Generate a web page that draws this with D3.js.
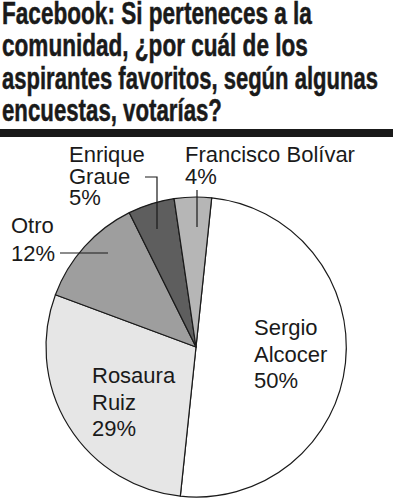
<!DOCTYPE html>
<html>
<head>
<meta charset="utf-8">
<script src="https://cdn.jsdelivr.net/npm/d3@7"></script>
<style>
  html, body { margin: 0; padding: 0; background: #fff; }
  svg { display: block; }
</style>
</head>
<body>
<script>
var width = 393, height = 500;

// data
var names = ["Sergio Alcocer", "Rosaura Ruiz", "Otro", "Enrique Graue", "Francisco Bolívar"];
var values = [50, 29, 12, 5, 4];
var fills = ["#ffffff", "#e6e6e6", "#9e9e9e", "#5e5e5e", "#b6b6b6"];
var titleLines = [
  "Facebook: Si perteneces a la",
  "comunidad, ¿por cuál de los",
  "aspirantes favoritos, según algunas",
  "encuestas, votarías?"
];
// widths of the title lines in the reference (condensed face)
var titleWidths = [310, 306, 376, 220];

var cx = 196, cy = 347, r = 150;
var startDeg = 6;

var svg = d3.select("body").append("svg")
  .attr("width", width)
  .attr("height", height)
  .attr("xmlns", "http://www.w3.org/2000/svg");

// title: a bold face squeezed sideways to look like the condensed one
svg.append("g").selectAll("text")
  .data(titleLines)
  .enter().append("text")
  .attr("x", 0)
  .attr("y", 0)
  .style("font-family", "'Liberation Sans', Arial, sans-serif")
  .style("font-weight", "bold")
  .style("font-size", "32px")
  .style("fill", "#1a1a1a")
  .style("stroke", "#1a1a1a")
  .style("stroke-width", 0.5)
  .text(function(d) { return d; })
  .attr("transform", function(d, i) {
    var sx = titleWidths[i] / this.getComputedTextLength();
    return "translate(2," + (23.5 + i * 32.5) + ")scale(" + sx + ",1)";
  });

svg.append("rect")
  .attr("x", 0).attr("y", 129)
  .attr("width", width).attr("height", 8)
  .attr("fill", "#1a1a1a");

// pie
var pie = d3.pie().sort(null)
  .startAngle(startDeg * Math.PI / 180)
  .endAngle((startDeg + 360) * Math.PI / 180);
var arc = d3.arc().innerRadius(0).outerRadius(r);
var arcs = pie(values);

var g = svg.append("g").attr("transform", "translate(" + cx + "," + cy + ")");
g.selectAll("path")
  .data(arcs)
  .enter().append("path")
  .attr("d", arc)
  .attr("fill", function(d, i) { return fills[i]; })
  .attr("stroke", "#1a1a1a")
  .attr("stroke-width", 1.2)
  .attr("stroke-linejoin", "round");

// labels
var labels = [
  { lines: ["Sergio", "Alcocer", values[0] + "%"], x: 254, y: 335, dy: 26.5 },
  { lines: ["Rosaura", "Ruiz", values[1] + "%"], x: 92, y: 383, dy: 26.5 },
  { lines: ["Otro", values[2] + "%"], x: 11, y: 233, dy: 28 },
  { lines: ["Enrique", "Graue", values[3] + "%"], x: 69, y: 162, dy: 21.5 },
  { lines: ["Francisco Bolívar", values[4] + "%"], x: 185, y: 162, dy: 21.5 }
];

labels.forEach(function(l) {
  var t = svg.append("text")
    .style("font-family", "'Liberation Sans', Arial, sans-serif")
    .style("font-size", "22px")
    .style("fill", "#1a1a1a");
  l.lines.forEach(function(s, i) {
    t.append("tspan").attr("x", l.x).attr("y", l.y + i * l.dy).text(s);
  });
});

// leader lines
var leaders = [
  [[60, 253], [108, 253]],
  [[145, 177], [157, 177], [157, 229]],
  [[197, 190], [197, 227]]
];
svg.selectAll(".leader")
  .data(leaders)
  .enter().append("path")
  .attr("class", "leader")
  .attr("d", d3.line())
  .attr("fill", "none")
  .attr("stroke", "#1a1a1a")
  .attr("stroke-width", 1.2);
</script>
</body>
</html>
